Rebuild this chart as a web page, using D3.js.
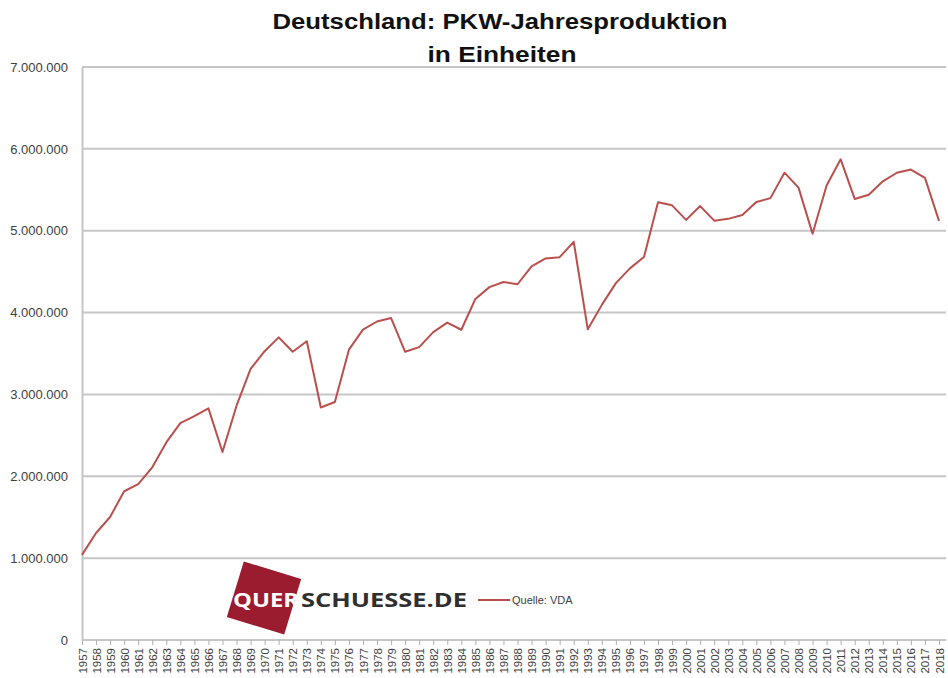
<!DOCTYPE html>
<html>
<head>
<meta charset="utf-8">
<script src="https://cdn.jsdelivr.net/npm/d3@7"></script>
<style>
  html, body { margin: 0; padding: 0; background: #ffffff; }
  svg { display: block; }
</style>
</head>
<body>
<svg id="chart" width="948" height="678"></svg>
<script>
// ---- Data ----
const years = [
  "1957","1958","1959","1960","1961","1962","1963","1964","1965","1966",
  "1967","1968","1969","1970","1971","1972","1973","1974","1975","1976",
  "1977","1978","1979","1980","1981","1982","1983","1984","1985","1986",
  "1987","1988","1989","1990","1991","1992","1993","1994","1995","1996",
  "1997","1998","1999","2000","2001","2002","2003","2004","2005","2006",
  "2007","2008","2009","2010","2011","2012","2013","2014","2015","2016",
  "2017","2018"
];
const production = [
  1040000,1307000,1503000,1817000,1904000,2109000,2414000,2650000,2734000,2830000,
  2296000,2862000,3313000,3528000,3697000,3521000,3650000,2840000,2908000,3547000,
  3791000,3891000,3933000,3521000,3578000,3761000,3878000,3790000,4167000,4311000,
  4374000,4346000,4564000,4661000,4677000,4864000,3795000,4094000,4360000,4540000,
  4678000,5348000,5310000,5132000,5301000,5123000,5145000,5192000,5350000,5398000,
  5709000,5526000,4964000,5552000,5872000,5388000,5440000,5604000,5708000,5747000,
  5646000,5120000
];
const yTicks = [0,1000000,2000000,3000000,4000000,5000000,6000000,7000000];
const titleLines = ["Deutschland: PKW-Jahresproduktion", "in Einheiten"];
const legendLabel = "Quelle: VDA";
const logoParts = ["QUER", "SCHUESSE.DE"];

// ---- Layout ----
const svg = d3.select("#chart");
const plotLeft = 82, plotRight = 946, plotTop = 67, plotBottom = 640;
const lineColor = "#b9504e";
const gridColor = "#c6c6c6";
const textColor = "#404040";

const x = d3.scalePoint().domain(years).range([plotLeft, 939]);
const y = d3.scaleLinear().domain([0, 7000000]).range([plotBottom, plotTop]);

const fmt = v => d3.format(",")(v).replace(/,/g, ".");

// Title
svg.append("text")
  .attr("x", 500).attr("y", 29)
  .attr("text-anchor", "middle")
  .attr("font-family", "Liberation Sans, Arial, sans-serif")
  .attr("font-weight", "bold").attr("font-size", 22)
  .attr("textLength", 455).attr("lengthAdjust", "spacingAndGlyphs")
  .attr("fill", "#111")
  .text(titleLines[0]);
svg.append("text")
  .attr("x", 502).attr("y", 62)
  .attr("text-anchor", "middle")
  .attr("font-family", "Liberation Sans, Arial, sans-serif")
  .attr("font-weight", "bold").attr("font-size", 22)
  .attr("textLength", 149).attr("lengthAdjust", "spacingAndGlyphs")
  .attr("fill", "#111")
  .text(titleLines[1]);

// Gridlines
svg.append("g")
  .selectAll("line").data(yTicks.filter(d => d > 0)).join("line")
  .attr("x1", plotLeft).attr("x2", plotRight)
  .attr("y1", d => y(d)).attr("y2", d => y(d))
  .attr("stroke", gridColor).attr("stroke-width", 2);

// Y axis
const yAxis = svg.append("g")
  .attr("transform", `translate(${plotLeft},0)`)
  .call(d3.axisLeft(y).tickValues(yTicks).tickFormat(fmt).tickSize(0).tickPadding(14));
yAxis.select(".domain").attr("stroke", gridColor).attr("stroke-width", 2);
yAxis.selectAll("text")
  .attr("font-family", "Liberation Sans, Arial, sans-serif")
  .attr("font-size", 13).attr("fill", textColor);

// X axis
const xAxis = svg.append("g")
  .attr("transform", `translate(0,${plotBottom})`)
  .call(d3.axisBottom(x).tickSize(5).tickSizeOuter(0));
xAxis.select(".domain").attr("stroke", gridColor).attr("stroke-width", 2)
  .attr("d", `M${plotLeft},0H${plotRight}`);
xAxis.selectAll(".tick line").attr("stroke", "#b0b0b0");
xAxis.selectAll("text")
  .attr("font-family", "Liberation Sans, Arial, sans-serif")
  .attr("font-size", 11.5).attr("fill", textColor)
  .attr("text-anchor", "end")
  .attr("transform", "rotate(-90)")
  .attr("x", -8).attr("y", 0).attr("dy", "0.35em");

// Line
const line = d3.line()
  .x((d, i) => x(years[i]))
  .y(d => y(d));
svg.append("path")
  .datum(production)
  .attr("d", line)
  .attr("fill", "none")
  .attr("stroke", lineColor)
  .attr("stroke-width", 2)
  .attr("stroke-linejoin", "round");

// Logo
const logo = svg.append("g");
logo.append("rect")
  .attr("x", -30).attr("y", -29).attr("width", 60).attr("height", 58)
  .attr("fill", "#9b1b2f")
  .attr("transform", "translate(264,598) rotate(17)");
logo.append("text")
  .attr("x", 233).attr("y", 607)
  .attr("font-family", "Open Sans, DejaVu Sans, sans-serif")
  .attr("font-weight", "bold").attr("font-size", 19)
  .attr("textLength", 66).attr("lengthAdjust", "spacingAndGlyphs")
  .attr("fill", "#ffffff")
  .text(logoParts[0]);
logo.append("text")
  .attr("x", 301).attr("y", 607)
  .attr("font-family", "Open Sans, DejaVu Sans, sans-serif")
  .attr("font-weight", "bold").attr("font-size", 19)
  .attr("textLength", 166).attr("lengthAdjust", "spacingAndGlyphs")
  .attr("fill", "#2f2f2f")
  .text(logoParts[1]);

// Legend
svg.append("line")
  .attr("x1", 478).attr("x2", 510).attr("y1", 600).attr("y2", 600)
  .attr("stroke", lineColor).attr("stroke-width", 2);
svg.append("text")
  .attr("x", 512).attr("y", 604)
  .attr("font-family", "Liberation Sans, Arial, sans-serif")
  .attr("font-size", 11).attr("fill", textColor)
  .text(legendLabel);
</script>
</body>
</html>
